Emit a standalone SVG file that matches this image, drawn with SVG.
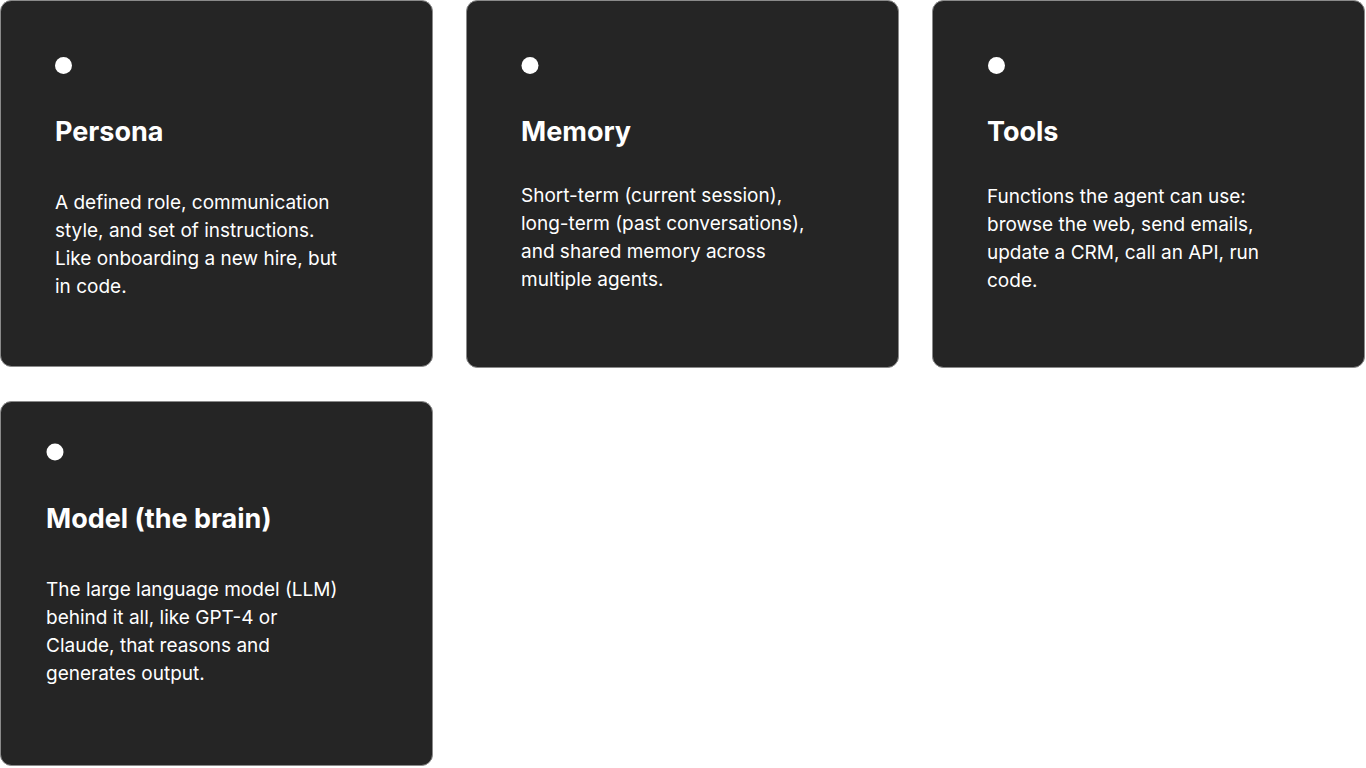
<svg xmlns="http://www.w3.org/2000/svg" width="1366" height="768" viewBox="0 0 1366 768">
<style>
.card{fill:#252525;stroke:#8a8a8a;stroke-width:1}
.dot{fill:#ffffff}
.t{font-family:Inter,"Liberation Sans",sans-serif;font-weight:700;font-size:27px;fill:#ffffff}
.b{font-family:Inter,"Liberation Sans",sans-serif;font-size:19px;fill:#ffffff}
</style>
<rect width="1366" height="768" fill="#ffffff"/>
<g id="persona">
<rect class="card" x="0.5" y="0.5" width="432" height="366" rx="11"/>
<circle class="dot" cx="63.5" cy="65.5" r="8.5"/>
<text class="t" x="55" y="141">Persona</text>
<text class="b"><tspan x="55" y="209">A defined role, communication</tspan><tspan x="55" y="237">style, and set of instructions.</tspan><tspan x="55" y="265">Like onboarding a new hire, but</tspan><tspan x="55" y="293">in code.</tspan></text>
</g>
<g id="memory">
<rect class="card" x="466.5" y="0.5" width="432" height="367" rx="11"/>
<circle class="dot" cx="530" cy="65.5" r="8.5"/>
<text class="t" x="521" y="141">Memory</text>
<text class="b"><tspan x="521" y="202">Short-term (current session),</tspan><tspan x="521" y="230">long-term (past conversations),</tspan><tspan x="521" y="258">and shared memory across</tspan><tspan x="521" y="286">multiple agents.</tspan></text>
</g>
<g id="tools">
<rect class="card" x="932.5" y="0.5" width="432" height="367" rx="11"/>
<circle class="dot" cx="996.5" cy="65.5" r="8.5"/>
<text class="t" x="987" y="141">Tools</text>
<text class="b"><tspan x="987" y="203">Functions the agent can use:</tspan><tspan x="987" y="231">browse the web, send emails,</tspan><tspan x="987" y="259">update a CRM, call an API, run</tspan><tspan x="987" y="287">code.</tspan></text>
</g>
<g id="model">
<rect class="card" x="0.5" y="401.5" width="432" height="364" rx="11"/>
<circle class="dot" cx="55" cy="452" r="8.5"/>
<text class="t" x="46" y="528">Model (the brain)</text>
<text class="b"><tspan x="46" y="596">The large language model (LLM)</tspan><tspan x="46" y="624">behind it all, like GPT-4 or</tspan><tspan x="46" y="652">Claude, that reasons and</tspan><tspan x="46" y="680">generates output.</tspan></text>
</g>
<g id="connectors"></g>
</svg>
